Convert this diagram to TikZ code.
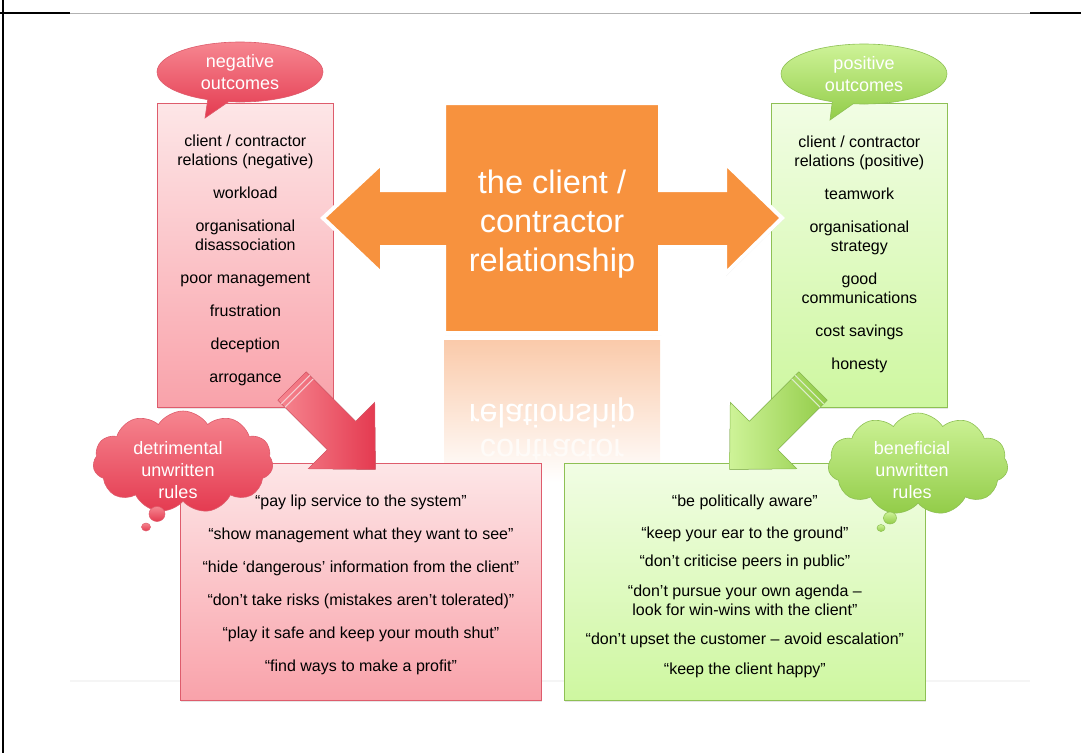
\documentclass[tikz,border=0pt]{standalone}
\usepackage{fontspec}
\setmainfont{Liberation Sans}
\usetikzlibrary{positioning,shapes.geometric,shapes.callouts,shapes.symbols,shadows}

\definecolor{negdark}{RGB}{228,58,80}
\definecolor{neglight}{RGB}{246,134,144}
\definecolor{negpale}{RGB}{253,230,231}
\definecolor{negbox}{RGB}{249,162,170}
\definecolor{negline}{RGB}{222,92,108}
\definecolor{posdark}{RGB}{146,204,72}
\definecolor{poslight}{RGB}{206,243,152}
\definecolor{pospale}{RGB}{241,253,228}
\definecolor{posbox}{RGB}{206,247,160}
\definecolor{posline}{RGB}{142,192,84}
\definecolor{orangebox}{RGB}{247,146,62}
\definecolor{reflect}{RGB}{250,202,170}

\tikzset{
  outcomebox/.style={draw, line width=0.8pt, anchor=north west, inner sep=0pt,
    minimum width=176pt, minimum height=304pt,
    drop shadow={shadow xshift=1pt, shadow yshift=-2pt, opacity=0.2}},
  rulebox/.style={outcomebox, minimum width=361pt, minimum height=237pt},
  boxtext/.style={inner sep=0pt, anchor=north, align=center,
    font=\fontsize{16}{19}\selectfont},
  bubble/.style={ellipse callout, draw, line width=0.6pt, inner sep=0pt,
    minimum width=166pt, minimum height=60pt, align=center, text=white,
    font=\fontsize{18}{22}\selectfont},
  thought/.style={cloud, cloud puffs=11, cloud puff arc=115, aspect=1.8, draw,
    line width=0.6pt, inner sep=0pt, minimum width=180pt, minimum height=102pt},
  cloudtext/.style={align=center, text=white, font=\fontsize{18}{22}\selectfont},
  thoughtdot/.style={ellipse, draw, line width=0.5pt, inner sep=0pt},
  negbg/.style={draw=negline, top color=negpale, bottom color=negbox},
  posbg/.style={draw=posline, top color=pospale, bottom color=posbox},
  negfill/.style={draw=negline, top color=neglight, bottom color=negdark},
  posfill/.style={draw=posline, top color=poslight, bottom color=posdark}
}

\begin{document}
\begin{tikzpicture}[x=1pt, y=-1pt]
\useasboundingbox (0,0) rectangle (1081,753);

% frame
\draw[line width=1.2pt] (3,0) -- (3,753);
\draw[gray!60, line width=0.6pt] (70,13) -- (1030,13);
\draw[line width=1.2pt] (0,13) -- (70,13) (1030,13) -- (1081,13);
\draw[gray!8, line width=1.5pt] (70,681) -- (1030,681);

% reflection
\shade[top color=reflect, bottom color=white] (444,340) rectangle (660,482);
\node[text=white, yscale=-1, font=\fontsize{32.5}{39}\selectfont] (relmirror) at (552,413) {relationship};
\node[text=white!92!reflect, yscale=-1, font=\fontsize{32.5}{39}\selectfont] (conmirror) at (552,450) {contractor};

% outcome boxes
\node[outcomebox, negbg] (negbox) at (157,103) {};
\node[boxtext, below=32.1pt of negbox.north] (negtext) {client / contractor\\relations (negative)\\[14pt]
  workload\\[14pt] organisational\\disassociation\\[14pt] poor management\\[14pt]
  frustration\\[14pt] deception\\[14pt] arrogance};
\node[outcomebox, posbg] (posbox) at (771,103) {};
\node[boxtext, below=33.1pt of posbox.north] (postext) {client / contractor\\relations (positive)\\[14pt]
  teamwork\\[14pt] organisational\\strategy\\[14pt] good\\communications\\[14pt]
  cost savings\\[14pt] honesty};

% unwritten rules
\node[rulebox, negbg] (negrules) at (180,463) {};
\node[boxtext, below=31.6pt of negrules.north] (negrulestext) {``pay lip service to the system''\\[14pt]
  ``show management what they want to see''\\[14pt]
  ``hide ‘dangerous’ information from the client''\\[14pt]
  ``don’t take risks (mistakes aren’t tolerated)''\\[14pt]
  ``play it safe and keep your mouth shut''\\[14pt]
  ``find ways to make a profit''};
\node[rulebox, posbg] (posrules) at (564,463) {};
\node[boxtext, below=31.6pt of posrules.north] (posrulestext) {``be politically aware''\\[13pt]
  ``keep your ear to the ground''\\[9pt]
  ``don’t criticise peers in public''\\[11pt]
  ``don’t pursue your own agenda –\\look for win-wins with the client''\\[10pt]
  ``don’t upset the customer – avoid escalation''\\[11pt]
  ``keep the client happy''};

% the relationship
\filldraw[fill=orangebox, draw=white, line width=4pt, line join=miter,
  drop shadow={shadow xshift=1pt, shadow yshift=-2pt, opacity=0.15}]
  (323,218) -- (382,163) -- (382,190) -- (444,190) -- (444,103) -- (660,103)
  -- (660,190) -- (725,190) -- (725,163) -- (782,218) -- (725,274) -- (725,247)
  -- (660,247) -- (660,333) -- (444,333) -- (444,247) -- (382,247) -- (382,274) -- cycle;
\node[text=white, align=center, font=\fontsize{32.5}{39}\selectfont] (rel) at (552,224)
  {the client /\\contractor\\relationship};

% block arrows
\coordinate (negtail) at (292,386);
\coordinate (postail) at (813,386);
\begin{scope}[shift={(negtail)}, rotate=-45]
  \filldraw[left color=neglight, right color=negdark, draw=negline, line width=0.5pt]
    (0,-20) -- (70,-20) -- (70,-47) -- (118,0) -- (70,47) -- (70,20) -- (0,20) -- cycle;
  \draw[white!70!negline, line width=1pt] (5,-20) -- (5,20) (10,-20) -- (10,20);
\end{scope}
\begin{scope}[shift={(postail)}, rotate=-135]
  \filldraw[left color=poslight, right color=posdark, draw=posline, line width=0.5pt]
    (0,-20) -- (70,-20) -- (70,-47) -- (118,0) -- (70,47) -- (70,20) -- (0,20) -- cycle;
  \draw[white!70!posline, line width=1pt] (5,-20) -- (5,20) (10,-20) -- (10,20);
\end{scope}

% bubbles
\node[bubble, negfill, callout absolute pointer={(205,118)}] (negcall) at (240,72) {negative\\outcomes};
\node[bubble, posfill, callout absolute pointer={(830,120)}] (poscall) at (864,74) {positive\\outcomes};

% clouds
\node[thought, negfill] (negcloud) at (183,462) {};
\node[cloudtext] (negcloudtext) at (178,470) {detrimental\\unwritten\\rules};
\node[thoughtdot, negfill, minimum width=16pt, minimum height=15pt] (negdot) at (157,514) {};
\node[thoughtdot, negfill, minimum width=9pt, minimum height=8pt] (negdot2) at (146,527) {};
\node[thought, posfill] (poscloud) at (918,464) {};
\node[cloudtext] (poscloudtext) at (912,470) {beneficial\\unwritten\\rules};
\node[thoughtdot, posfill, minimum width=13pt, minimum height=12pt] (posdot) at (890,518) {};
\node[thoughtdot, posfill, minimum width=8pt, minimum height=7pt] (posdot2) at (881,528) {};
\end{tikzpicture}
\end{document}
